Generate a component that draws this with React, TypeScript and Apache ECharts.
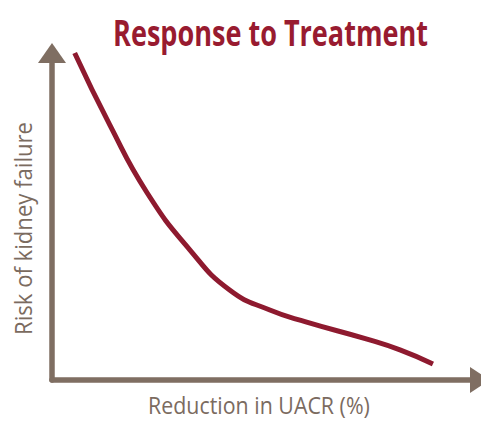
import React, { useEffect, useRef } from "react";
import * as echarts from "echarts";

const titleText = "Response to Treatment";
const xAxisName = "Reduction in UACR (%)";
const yAxisName = "Risk of kidney failure";
const curveX = [5.3, 13.5, 22.1, 32.2, 41.5, 50.9, 59.5, 73.6, 81.3, 89.0];
const curveY = [100, 78.0, 57.5, 39.8, 27.5, 21.4, 17.7, 12.5, 9.2, 4.9];

const AXIS_COLOR = "#7f6e62";
const LABEL_COLOR = "#7b6b5f";
const CURVE_COLOR = "#8e1a2f";
const TITLE_COLOR = "#981b30";
const TITLE_FONT = "bold 35px 'Open Sans'";
const LABEL_FONT = "24px 'Open Sans'";

function measure(text: string, font: string): number {
  const c = document.createElement("canvas");
  const ctx = c.getContext("2d");
  if (!ctx) return 1;
  ctx.font = font;
  return ctx.measureText(text).width || 1;
}

export default function App() {
  const ref = useRef<HTMLDivElement>(null);
  useEffect(() => {
    if (!ref.current) return;
    const chart = echarts.init(ref.current, null, { renderer: "svg" });
    const data = curveX.map((x, i) => [x, curveY[i]]);
    const titleScale = 315 / measure(titleText, TITLE_FONT);
    const xScale = 222 / measure(xAxisName, LABEL_FONT);
    const yScale = 213 / measure(yAxisName, LABEL_FONT);
    chart.setOption({
      animation: false,
      backgroundColor: "#ffffff",
      grid: { left: 52, right: 1, top: 53, bottom: 41, outerBoundsMode: "none" },
      graphic: [
        {
          type: "text",
          x: 270.5,
          y: 32.5,
          scaleX: titleScale,
          style: { text: titleText, font: TITLE_FONT, fill: TITLE_COLOR, align: "center", verticalAlign: "middle" },
        },
        {
          type: "text",
          x: 259,
          y: 405.5,
          scaleX: xScale,
          style: { text: xAxisName, font: LABEL_FONT, fill: LABEL_COLOR, align: "center", verticalAlign: "middle" },
        },
        {
          type: "text",
          x: 23,
          y: 228.5,
          rotation: Math.PI / 2,
          scaleX: yScale,
          style: { text: yAxisName, font: LABEL_FONT, fill: LABEL_COLOR, align: "center", verticalAlign: "middle" },
        },
      ],
      xAxis: {
        type: "value",
        min: 0,
        max: 100,
        axisLine: {
          show: true,
          symbol: ["none", "triangle"],
          symbolSize: [26, 20],
          lineStyle: { color: AXIS_COLOR, width: 5.5 },
        },
        axisTick: { show: false },
        axisLabel: { show: false },
        splitLine: { show: false },
      },
      yAxis: {
        type: "value",
        min: 0,
        max: 100,
        axisLine: {
          show: true,
          symbol: ["none", "triangle"],
          symbolSize: [28, 20],
          lineStyle: { color: AXIS_COLOR, width: 5.5 },
        },
        axisTick: { show: false },
        axisLabel: { show: false },
        splitLine: { show: false },
      },
      series: [
        {
          type: "line",
          data,
          smooth: 0.5,
          showSymbol: false,
          lineStyle: { color: CURVE_COLOR, width: 5 },
        },
      ],
    });
    return () => chart.dispose();
  }, []);
  return <div ref={ref} style={{ width: 481, height: 421, position: "absolute", left: 0, top: 0 }} />;
}
